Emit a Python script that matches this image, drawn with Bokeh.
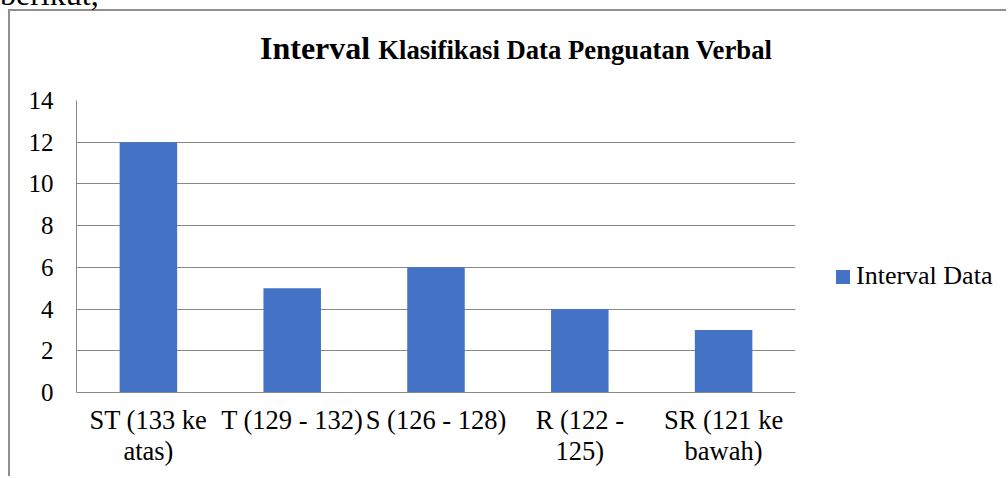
from bokeh.plotting import figure
from bokeh.models import ColumnDataSource, Range1d, FixedTicker, Div, LinearAxis
from bokeh.layouts import column, row
from bokeh.embed import file_html
from bokeh.resources import INLINE

# category labels, split over two lines as in the reference
tick_line1 = ["ST (133 ke", "T (129 - 132)", "S (126 - 128)", "R (122 -", "SR (121 ke"]
tick_line2 = ["atas)", "", "", "125)", "bawah)"]
values = [12, 5, 6, 4, 3]
y_ticks = [0, 2, 4, 6, 8, 10, 12, 14]
series_name = "Interval Data"
title_big = "Interval"
title_small = "Klasifikasi Data Penguatan Verbal"
page_text_above = "berikut,"

FONT = "Liberation Serif"
GRID = "#898989"
BAR = "#4472C4"

n = len(tick_line1)
pos = [i + 0.5 for i in range(n)]   # category centres on a 0..n axis

title_div = Div(
    text=(f'<div style="position:absolute;left:-10px;top:-33px;font-family:\'Liberation Serif\',serif;'
          f'font-size:32px;line-height:1;white-space:nowrap;color:black">{page_text_above}</div>'
          f'<div style="padding-left:250px;padding-top:21px;font-family:\'Liberation Serif\',serif;'
          f'font-weight:bold;line-height:1;white-space:nowrap;color:black">'
          f'<span style="font-size:32px">{title_big} </span>'
          f'<span style="font-size:26.7px">{title_small}</span></div>'),
    width=996, height=60, margin=0,
)

src = ColumnDataSource(dict(x=pos, val=values, cat=tick_line1))

p = figure(
    width=790, height=405,
    x_range=Range1d(0, n),
    y_range=Range1d(0, 14),
    output_backend="svg", toolbar_location=None,
    min_border_left=66, min_border_top=29, min_border_right=5, min_border_bottom=84,
    margin=0,
)
p.outline_line_color = None
p.background_fill_color = "white"
p.border_fill_color = "white"

p.vbar(x="x", top="val", width=0.4, source=src, color=BAR, line_color=None)

p.xgrid.grid_line_color = None
p.ygrid.grid_line_color = GRID
p.ygrid.grid_line_width = 1
p.yaxis.ticker = FixedTicker(ticks=y_ticks)
p.xaxis.ticker = FixedTicker(ticks=pos)
p.xaxis.major_label_overrides = {x: lab for x, lab in zip(pos, tick_line1)}

for ax in (p.xaxis[0], p.yaxis[0]):
    ax.major_tick_line_color = None
    ax.minor_tick_line_color = None
    ax.axis_line_color = GRID
    ax.major_label_text_font = FONT
    ax.major_label_text_color = "black"
    ax.major_label_text_font_size = "26.5px"
p.yaxis.major_label_text_font_size = "25px"
p.xaxis.major_label_standoff = 6
p.yaxis.major_label_standoff = 17

# second line of the category labels
ax2 = LinearAxis(ticker=FixedTicker(ticks=pos),
                 major_label_overrides={x: lab for x, lab in zip(pos, tick_line2)})
ax2.axis_line_color = None
ax2.major_tick_line_color = None
ax2.minor_tick_line_color = None
ax2.major_label_text_font = FONT
ax2.major_label_text_color = "black"
ax2.major_label_text_font_size = "26.5px"
ax2.major_label_standoff = -8
p.add_layout(ax2, "below")

legend_div = Div(
    text=(f'<div style="padding-left:36px;padding-top:190px;font-family:\'Liberation Serif\',serif;'
          f'font-size:26px;line-height:30px;white-space:nowrap;color:black">'
          f'<span style="display:inline-block;width:14px;height:14px;background:{BAR};'
          f'margin-right:6px;vertical-align:baseline"></span>{series_name}</div>'),
    width=206, height=405, margin=0,
)

layout = column(title_div, row(p, legend_div, spacing=0), spacing=0,
                styles={"margin-left": "8px", "margin-top": "9px",
                        "border-left": "2px solid #8e8e8e", "border-top": "2px solid #8e8e8e"})

open("out.html", "w").write(file_html(layout, INLINE))
